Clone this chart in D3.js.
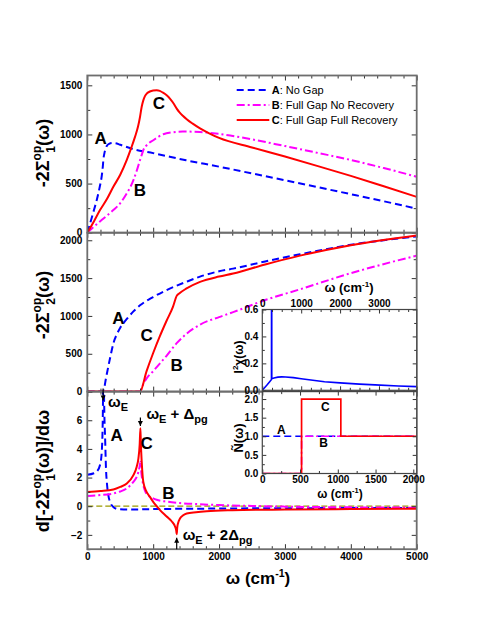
<!DOCTYPE html>
<html>
<head>
<meta charset="utf-8">
<script src="https://cdn.jsdelivr.net/npm/d3@7"></script>
<style>
  body { margin: 0; background: #fff; }
  svg text { font-family: "Liberation Sans", Arial, sans-serif; }
</style>
</head>
<body>
<svg id="chart" width="485" height="632"></svg>
<script>
// values, omega in cm^-1
var omegaE = 240;
var omegaE1 = 806;   // omega_E + Delta_pg
var omegaE2 = 1357;  // omega_E + 2 Delta_pg

var seriesKeys = ["A", "B", "C"];
var legendNames = ["No Gap", "Full Gap No Recovery", "Full Gap Full Recovery"];

// -2 Sigma_1 (top panel)
var reA = [[0,0],[50,112],[100,228],[150,350],[193,480],[220,580],[235,670],[245,750],[260,810],[280,860],[300,888],[330,905],[380,913],[420,912],[500,895],[700,850],[1000,810],[1500,737],[2000,672],[2500,603],[3000,534],[3500,463],[4000,392],[4500,320],[5000,245]];
var reB = [[0,0],[100,60],[193,115],[300,175],[395,230],[500,300],[598,400],[650,460],[700,535],[750,630],[800,738],[830,800],[850,840],[900,890],[1002,941],[1154,1002],[1300,1022],[1450,1030],[1711,1025],[2000,1005],[2500,950],[3000,882],[3500,812],[4000,740],[4500,658],[5000,570]];
var reC = [[0,0],[100,115],[193,230],[300,345],[395,467],[500,590],[598,738],[660,850],[724,975],[770,1080],[800,1178],[825,1280],[850,1347],[875,1390],[901,1415],[950,1437],[1000,1447],[1053,1450],[1100,1444],[1150,1425],[1205,1398],[1260,1360],[1310,1315],[1357,1263],[1400,1225],[1450,1190],[1509,1155],[1600,1110],[1711,1062],[1850,1012],[2000,965],[2500,868],[3000,775],[3500,678],[4000,578],[4500,472],[5000,365]];

// -2 Sigma_2 (middle panel)
var imA = [[0,0],[240,0],[260,60],[280,160],[300,250],[345,440],[400,650],[450,760],[500,845],[550,905],[600,960],[700,1060],[800,1140],[1000,1250],[1200,1340],[1500,1450],[1711,1520],[2000,1590],[2214,1625],[2700,1720],[3229,1815],[4000,1940],[5000,2050]];
var imB = [[0,0],[800,0],[850,100],[900,175],[1000,270],[1100,370],[1200,470],[1357,640],[1500,760],[1711,885],[2000,985],[2214,1050],[2700,1210],[3229,1352],[4000,1565],[5000,1797]];
var imC = [[0,0],[800,0],[900,270],[1000,510],[1100,730],[1200,930],[1300,1120],[1357,1265],[1400,1300],[1500,1360],[1711,1450],[2000,1520],[2214,1560],[2700,1680],[3229,1797],[4000,1935],[5000,2064]];

// derivative of -2 Sigma_1 (bottom panel)
var dA = [[0,2.2],[100,2.3],[150,2.45],[193,2.87],[210,3.3],[222,4.0],[230,5.0],[236,6.5],[240,8.5],[243,12],[245,12],[252,8.5],[260,6.2],[269,4.97],[284,2.6],[300,1.5],[319,0.77],[350,0.25],[395,-0.05],[470,-0.2],[700,-0.23],[1000,-0.2],[1500,-0.18],[2000,-0.16],[3000,-0.14],[5000,-0.12]];
var dB = [[0,0.72],[200,0.78],[395,0.89],[500,1.03],[598,1.24],[700,1.7],[750,2.05],[776,2.4],[795,2.8],[806,3.1],[815,2.6],[825,2.15],[840,1.7],[870,1.15],[901,0.85],[1000,0.55],[1053,0.45],[1205,0.32],[1407,0.22],[1700,0.14],[2000,0.08],[2500,0.02],[3000,-0.03],[4000,-0.08],[5000,-0.1]];
var dC = [[0,1.0],[200,1.06],[395,1.17],[500,1.35],[600,1.59],[700,2.17],[750,2.75],[776,3.34],[795,4.3],[806,5.45],[812,4.5],[826,3.1],[850,1.7],[900,1.0],[951,0.65],[1000,0.3],[1053,0],[1100,-0.25],[1205,-0.72],[1280,-1.05],[1330,-1.4],[1350,-1.7],[1357,-1.95],[1365,-1.5],[1380,-1.15],[1407,-0.86],[1450,-0.65],[1509,-0.51],[1650,-0.42],[1812,-0.35],[2200,-0.28],[3000,-0.23],[4000,-0.2],[5000,-0.18]];
var zeroLine = [[0,0],[5000,0]];

// inset: I^2 chi(omega)
var chi = [[0,0],[120,0.04],[200,0.068],[236,0.08],[237,0.7],[243,0.7],[244,0.086],[300,0.092],[400,0.098],[500,0.1],[600,0.099],[800,0.094],[1000,0.086],[1300,0.075],[1600,0.064],[2000,0.055],[2500,0.046],[2900,0.04],[3500,0.032],[3970,0.027]];

// inset: N(omega)
var nA = [[0,1],[2045,1]];
var nB = [[0,0],[520,0],[520,1],[2045,1]];
var nC = [[0,0],[520,0],[520,2],[1040,2],[1040,1],[2045,1]];

var svg = d3.select("#chart");

var style = {
  A: { color: "#0000ff", dash: "7,4" },
  B: { color: "#ff00ff", dash: "8,3,2,3" },
  C: { color: "#ff0000", dash: null }
};

var x = d3.scaleLinear().domain([0, 5000]).range([87.3, 416.7]);
var yTop = d3.scaleLinear().domain([0, 1600]).range([232.7, 75.5]);
var yMid = d3.scaleLinear().domain([0, 2100]).range([391.6, 232.7]);
var yBot = d3.scaleLinear().domain([-3, 8]).range([549.2, 391.6]);

var xIn1 = d3.scaleLinear().domain([0, 3970]).range([262.3, 416.7]);
var yIn1 = d3.scaleLinear().domain([0, 0.6]).range([390.3, 309.5]);
var xIn2 = d3.scaleLinear().domain([0, 2045]).range([262.3, 416.7]);
var yIn2 = d3.scaleLinear().domain([0, 2.2]).range([473.5, 391.6]);

// a, a+s, a+2s ... not past b
function steps(a, b, s) {
  var n = Math.floor((b - a) / s + 1e-6);
  return d3.range(n + 1).map(function(i) { return +(a + i * s).toFixed(6); });
}

function tickGroup(g, axisFn, scale, vals, len, fmt, pad, shift) {
  var axis = axisFn(scale).tickValues(vals)
    .tickSizeInner(-len).tickSizeOuter(0).tickPadding(pad)
    .tickFormat(fmt || function() { return ""; });
  var sel = g.append("g").attr("transform", shift).call(axis);
  sel.select(".domain").remove();
  sel.selectAll("line").attr("stroke", "#333").attr("stroke-width", 1);
  sel.attr("font-family", null).attr("font-size", null);
  sel.selectAll("text").attr("font-size", 10).attr("font-weight", "bold").attr("fill", "#000");
  return sel;
}

// frame with inward ticks on all four sides
function addFrame(g, xs, ys, o) {
  var xr = xs.range(), yr = ys.range();
  var xd = xs.domain(), yd = ys.domain();
  var xMaj = steps(o.xFrom, xd[1], o.xMajor);
  var xMin = steps(o.xFrom, xd[1], o.xMinor).filter(function(d) { return xMaj.indexOf(d) < 0; });
  var yMaj = steps(o.yFrom, yd[1], o.yMajor);
  var yMin = steps(o.yMinFrom, yd[1], o.yMinor).filter(function(d) { return yMaj.indexOf(d) < 0; });
  var yLab = yMaj.filter(function(d) { return o.yLabelMax == null || d <= o.yLabelMax; });
  var yPlain = yMaj.filter(function(d) { return yLab.indexOf(d) < 0; });
  var big = o.big || 5, small = o.small || 3;

  tickGroup(g, d3.axisBottom, xs, xMaj, big, o.xBottom, o.xPad || 4, "translate(0," + yr[0] + ")");
  tickGroup(g, d3.axisBottom, xs, xMin, small, null, 3, "translate(0," + yr[0] + ")");
  tickGroup(g, d3.axisTop, xs, xMaj, big, o.xTop, o.xPad || 4, "translate(0," + yr[1] + ")");
  tickGroup(g, d3.axisTop, xs, xMin, small, null, 3, "translate(0," + yr[1] + ")");
  tickGroup(g, d3.axisLeft, ys, yLab, big, o.yFmt, o.yPad || 5, "translate(" + xr[0] + ",0)");
  tickGroup(g, d3.axisLeft, ys, yPlain, big, null, 3, "translate(" + xr[0] + ",0)");
  tickGroup(g, d3.axisLeft, ys, yMin, small, null, 3, "translate(" + xr[0] + ",0)");
  tickGroup(g, d3.axisRight, ys, yMaj, big, null, 3, "translate(" + xr[1] + ",0)");
  tickGroup(g, d3.axisRight, ys, yMin, small, null, 3, "translate(" + xr[1] + ",0)");

  g.append("rect")
    .attr("x", xr[0]).attr("y", yr[1])
    .attr("width", xr[1] - xr[0]).attr("height", yr[0] - yr[1])
    .attr("fill", "none").attr("stroke", o.frame || "#6e6e6e").attr("stroke-width", o.frameWidth || 1.8);
}

var clipCount = 0;
function clipFor(xs, ys) {
  var id = "clip" + (clipCount++);
  svg.append("clipPath").attr("id", id).append("rect")
    .attr("x", xs.range()[0]).attr("y", ys.range()[1])
    .attr("width", xs.range()[1] - xs.range()[0])
    .attr("height", ys.range()[0] - ys.range()[1]);
  return "url(#" + id + ")";
}

function drawSeries(g, xs, ys, pts, key, width, curve) {
  var line = d3.line()
    .x(function(d) { return xs(d[0]); })
    .y(function(d) { return ys(d[1]); })
    .curve(curve || d3.curveMonotoneX);
  g.append("path")
    .datum(pts)
    .attr("d", line)
    .attr("fill", "none")
    .attr("stroke", style[key].color)
    .attr("stroke-width", width)
    .attr("stroke-dasharray", style[key].dash);
}

function label(g, xs, ys, pos, txt, size) {
  g.append("text")
    .attr("x", xs(pos[0])).attr("y", ys(pos[1]))
    .attr("dy", "0.35em")
    .attr("text-anchor", "middle")
    .attr("font-weight", "bold")
    .attr("font-size", size)
    .text(txt);
}

var fmtInt = d3.format("d");
var fmt1 = d3.format(".1f");

// ---------- main panels ----------
var panels = [
  { ys: yTop, data: [reA, reB, reC], yMajor: 500, yMinor: 250, yFrom: 0, yMinFrom: 0,
    labels: [[203, 961], [800, 435], [1088, 1317]] },
  { ys: yMid, data: [imA, imB, imC], yMajor: 500, yMinor: 250, yFrom: 0, yMinFrom: 0,
    labels: [[471, 974], [1357, 354], [901, 752]] },
  { ys: yBot, data: [dA, dB, dC], yMajor: 2, yMinor: 1, yFrom: -2, yMinFrom: -3, yLabelMax: 6,
    labels: [[446, 4.97], [1230, 0.89], [901, 4.38]] }
];

panels.forEach(function(p, i) {
  var g = svg.append("g");
  var plot = g.append("g").attr("clip-path", clipFor(x, p.ys));
  if (i === 2) {
    plot.append("path").datum(zeroLine)
      .attr("d", d3.line().x(function(d) { return x(d[0]); }).y(function(d) { return p.ys(d[1]); }))
      .attr("stroke", "#9a9a00").attr("stroke-width", 1.3)
      .attr("stroke-dasharray", "6,3").attr("fill", "none");
  }
  p.data.forEach(function(pts, k) {
    drawSeries(plot, x, p.ys, pts, seriesKeys[k], 2);
  });
  addFrame(g, x, p.ys, {
    xFrom: 0, xMajor: 1000, xMinor: 200,
    yFrom: p.yFrom, yMinFrom: p.yMinFrom, yMajor: p.yMajor, yMinor: p.yMinor,
    yLabelMax: p.yLabelMax,
    xBottom: i === 2 ? fmtInt : null, yFmt: fmtInt
  });
  p.labels.forEach(function(pos, k) {
    label(g, x, p.ys, pos, seriesKeys[k], 17);
  });
});

// ---------- legend ----------
var legend = svg.append("g");
seriesKeys.forEach(function(key, i) {
  var ly = 90 + i * 15;
  legend.append("line")
    .attr("x1", 236.7).attr("x2", 269.3).attr("y1", ly).attr("y2", ly)
    .attr("stroke", style[key].color).attr("stroke-width", 2)
    .attr("stroke-dasharray", style[key].dash);
  var t = legend.append("text").attr("x", 271.7).attr("y", ly).attr("dy", "0.35em").attr("font-size", 11);
  t.append("tspan").attr("font-weight", "bold").text(key);
  t.append("tspan").text(": " + legendNames[i]);
});

// ---------- axis titles ----------
function sigmaTitle(cy, pre, sub, post) {
  var t = svg.append("text")
    .attr("transform", "translate(49," + cy + ") rotate(-90)")
    .attr("text-anchor", "middle")
    .attr("font-weight", "bold")
    .attr("font-size", 18);
  t.append("tspan").text(pre);
  t.append("tspan").attr("font-size", 12).attr("dy", -8).text("op");
  t.append("tspan").attr("font-size", 12).attr("dx", -7).attr("dy", 14).text(sub);
  t.append("tspan").attr("dy", -6).text(post);
}
sigmaTitle(153, "-2\u03A3", "1", "(\u03C9)");
sigmaTitle(305, "-2\u03A3", "2", "(\u03C9)");
sigmaTitle(471, "d[-2\u03A3", "1", "(\u03C9)]/d\u03C9");

function omegaTitle(cx, cy, size) {
  var t = svg.append("text")
    .attr("x", cx).attr("y", cy)
    .attr("text-anchor", "middle")
    .attr("font-weight", "bold")
    .attr("font-size", size);
  t.append("tspan").text("\u03C9 (cm");
  t.append("tspan").attr("font-size", size * 0.62).attr("dy", -size * 0.4).text("-1");
  t.append("tspan").attr("dy", size * 0.4).text(")");
}
omegaTitle(258, 584, 17);

// ---------- annotations ----------
function arrow(xp, y0, y1) {
  var dir = y1 > y0 ? 1 : -1;
  svg.append("line").attr("x1", xp).attr("x2", xp).attr("y1", y0).attr("y2", y1)
    .attr("stroke", "#000").attr("stroke-width", 1.2);
  svg.append("path")
    .attr("d", "M" + (xp - 2.5) + "," + (y1 - dir * 5) + "L" + (xp + 2.5) + "," + (y1 - dir * 5) + "L" + xp + "," + y1 + "Z")
    .attr("fill", "#000");
}
function omegaNote(xp, yp, rest, sub2) {
  var t = svg.append("text").attr("x", xp).attr("y", yp)
    .attr("font-weight", "bold").attr("font-size", 15);
  t.append("tspan").text("\u03C9");
  t.append("tspan").attr("font-size", 11).attr("dy", 4).text("E");
  if (rest) {
    t.append("tspan").attr("dy", -4).text(rest);
    t.append("tspan").attr("font-size", 11).attr("dy", 4).text(sub2);
  }
}
arrow(x(omegaE), yBot(8) - 3, yBot(8) + 9);
omegaNote(x(omegaE) + 5, yBot(6.95), null, null);
arrow(x(omegaE1), yBot(6.2), yBot(5.6));
omegaNote(x(omegaE1) + 6, yBot(6.1), " + \u0394", "pg");
arrow(x(omegaE2), yBot(-3), yBot(-2.2));
omegaNote(x(omegaE2) + 6, yBot(-2.35), " + 2\u0394", "pg");

// ---------- inset 1: I^2 chi ----------
var in1 = svg.append("g");
in1.append("rect").attr("x", 262.3).attr("y", 309.5).attr("width", 154.4).attr("height", 80.8).attr("fill", "#fff");
var in1Plot = in1.append("g").attr("clip-path", clipFor(xIn1, yIn1));
in1Plot.append("path").datum(chi)
  .attr("d", d3.line().x(function(d) { return xIn1(d[0]); }).y(function(d) { return yIn1(d[1]); }).curve(d3.curveLinear))
  .attr("fill", "none").attr("stroke", "#0000ff").attr("stroke-width", 1.6);
addFrame(in1, xIn1, yIn1, {
  xFrom: 0, xMajor: 1000, xMinor: 250,
  yFrom: 0, yMinFrom: 0, yMajor: 0.2, yMinor: 0.1,
  xTop: fmtInt, yFmt: fmt1, big: 4, small: 2.5, frame: "#444", frameWidth: 1.2, yPad: 4, xPad: 3
});
omegaTitle(349, 292, 13);
var chiTitle = svg.append("text")
  .attr("transform", "translate(243,357) rotate(-90)")
  .attr("text-anchor", "middle").attr("font-weight", "bold").attr("font-size", 12);
chiTitle.append("tspan").text("I");
chiTitle.append("tspan").attr("font-size", 8).attr("dy", -5).text("2");
chiTitle.append("tspan").attr("dy", 5).text("\u03C7(\u03C9)");

// ---------- inset 2: N(omega) ----------
var in2 = svg.append("g");
in2.append("rect").attr("x", 262.3).attr("y", 391.6).attr("width", 154.4).attr("height", 81.9).attr("fill", "#fff");
var in2Plot = in2.append("g").attr("clip-path", clipFor(xIn2, yIn2));
[nA, nB, nC].forEach(function(pts, k) {
  drawSeries(in2Plot, xIn2, yIn2, pts, seriesKeys[k], 1.7, d3.curveLinear);
});
addFrame(in2, xIn2, yIn2, {
  xFrom: 0, xMajor: 500, xMinor: 250,
  yFrom: 0, yMinFrom: 0, yMajor: 0.5, yMinor: 0.25,
  xBottom: fmtInt, yFmt: fmt1, big: 4, small: 2.5, frame: "#444", frameWidth: 1.2, yPad: 4, xPad: 2
});
[[251, 1.18], [812, 0.82], [834, 1.79]].forEach(function(pos, k) {
  label(in2, xIn2, yIn2, pos, seriesKeys[k], 12);
});
omegaTitle(340, 498, 12);
svg.append("text")
  .attr("transform", "translate(243,438) rotate(-90)")
  .attr("text-anchor", "middle").attr("font-weight", "bold").attr("font-size", 13)
  .text("\u00D1(\u03C9)");
</script>
</body>
</html>
